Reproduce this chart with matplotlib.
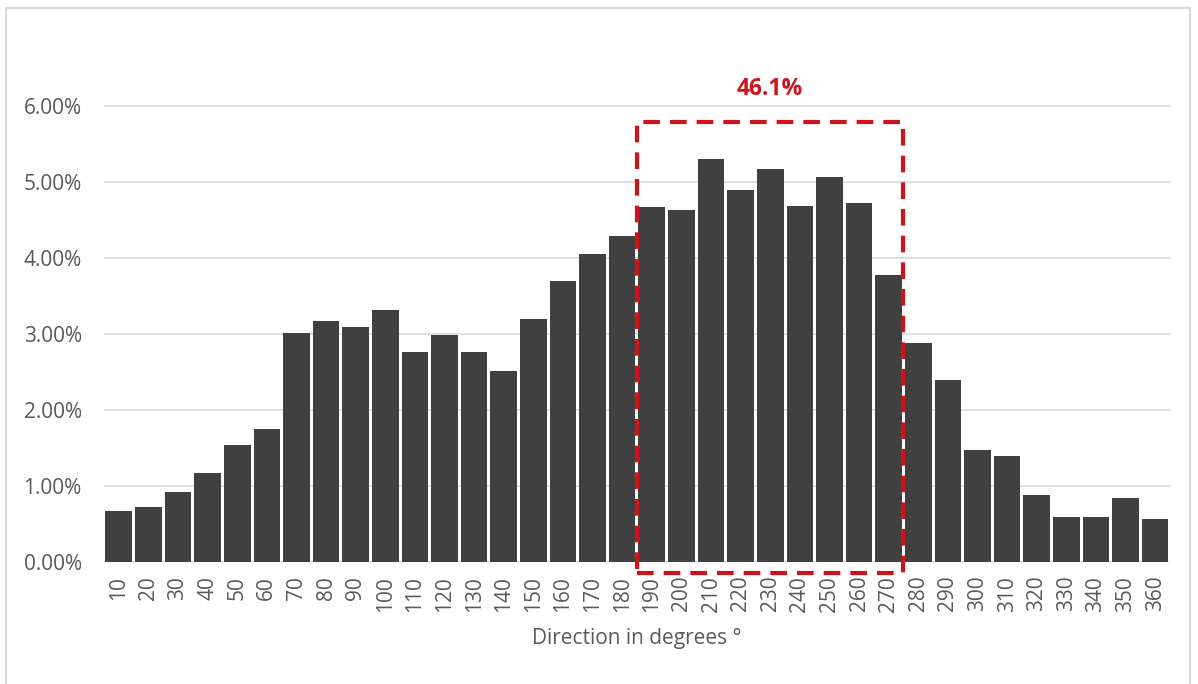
import matplotlib
matplotlib.use("Agg")
import matplotlib.pyplot as plt
from matplotlib.patches import Rectangle
from matplotlib.ticker import PercentFormatter

# Share of observations per 10-degree direction bin (%)
directions = list(range(10, 370, 10))
shares = [
    0.67, 0.72, 0.92, 1.17, 1.54, 1.75, 3.01, 3.17, 3.09, 3.32,
    2.76, 2.99, 2.76, 2.51, 3.20, 3.70, 4.05, 4.29, 4.67, 4.63,
    5.30, 4.89, 5.17, 4.68, 5.07, 4.72, 3.78, 2.88, 2.39, 1.47,
    1.39, 0.88, 0.59, 0.59, 0.84, 0.57,
]
highlight_from, highlight_to = 190, 270
highlight_label = "46.1%"

plt.rcParams['font.family'] = ['Open Sans', 'DejaVu Sans']
text_grey = '#595959'
bar_grey = '#404040'
red = '#d0121b'

fig = plt.figure(figsize=(11.98, 6.84), dpi=100)
ax = fig.add_axes([0.0868, 0.1784, 0.8898, 0.7778])

x = list(range(len(directions)))
ax.bar(x, shares, width=0.9, color=bar_grey, zorder=2)

ax.set_xlim(-0.5, len(directions) - 0.5)
ax.set_ylim(0, 7)
ax.set_yticks([0, 1, 2, 3, 4, 5, 6])
ax.yaxis.set_major_formatter(PercentFormatter(decimals=2))
ax.set_xticks(x)
ax.set_xticklabels([str(d) for d in directions], rotation=90)
ax.tick_params(axis='y', length=0, pad=16, labelsize=15, labelcolor=text_grey)
ax.tick_params(axis='x', length=0, pad=10, labelsize=15, labelcolor=text_grey)

for v in range(0, 7):
    ax.axhline(v, color='#d9d9d9', lw=1.2, zorder=1)
for side in ax.spines.values():
    side.set_visible(False)

ax.set_xlabel('Direction in degrees °', fontsize=15, color=text_grey, labelpad=12)

# Dashed box around the dominant sector
i0 = directions.index(highlight_from) - 0.5
i1 = directions.index(highlight_to) + 0.5
ax.add_patch(Rectangle((i0, -0.14), i1 - i0, 5.93, fill=False, edgecolor=red,
                       lw=3, linestyle=(0, (4, 2.4)), clip_on=False, zorder=3))
ax.text((i0 + i1) / 2, 6.22, highlight_label, color=red, fontsize=16.5,
        fontweight='bold', ha='center', va='center')

# Light frame around the whole chart
fig.patches.append(Rectangle((6 / 1198, -0.01), 1184 / 1198, 1 - 8 / 684 + 0.01,
                             transform=fig.transFigure, fill=False,
                             edgecolor='#d9d9d9', lw=1.5))

fig.savefig('out.png', dpi=100)
